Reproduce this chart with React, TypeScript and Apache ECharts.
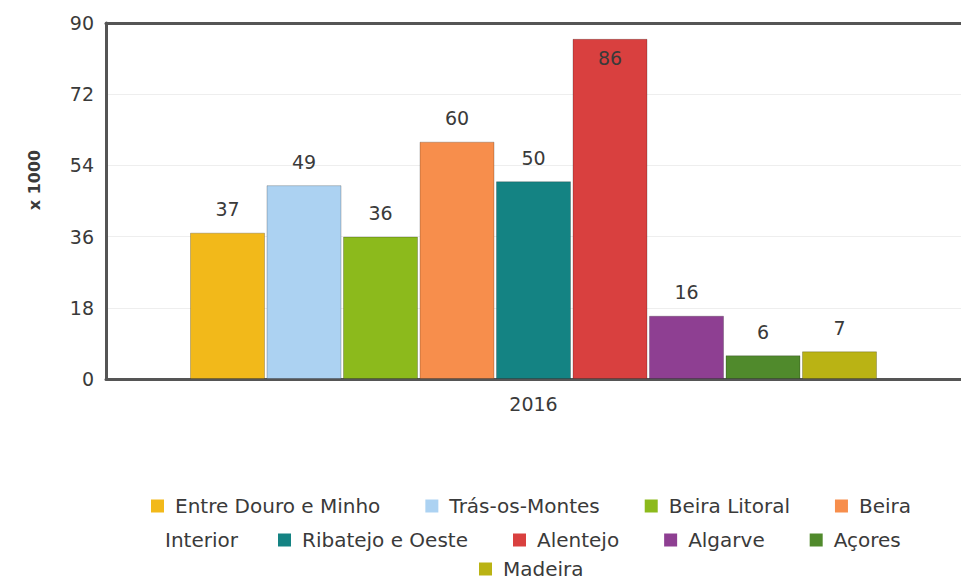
import React, { useEffect, useRef } from "react";
import * as echarts from "echarts";

const categories = ["2016"];
const regions = [
  "Entre Douro e Minho",
  "Trás-os-Montes",
  "Beira Litoral",
  "Beira Interior",
  "Ribatejo e Oeste",
  "Alentejo",
  "Algarve",
  "Açores",
  "Madeira",
];
const values = [37, 49, 36, 60, 50, 86, 16, 6, 7];
const colors = [
  "#f2b91a",
  "#acd2f2",
  "#8cba1c",
  "#f78e4c",
  "#148383",
  "#d9403f",
  "#8e3f92",
  "#508a2c",
  "#bab314",
];
const yTicks = { min: 0, max: 90, interval: 18 };
const legendRows = [regions.slice(0, 4), regions.slice(4, 8), regions.slice(8)];

export default function App() {
  const ref = useRef<HTMLDivElement>(null);
  useEffect(() => {
    if (!ref.current) return;
    const chart = echarts.init(ref.current, undefined, { renderer: "svg" });
    const font = "DejaVu Sans, Verdana, sans-serif";
    const txt = "#3a3a3a";
    const legendBase = {
      orient: "horizontal",
      padding: 0,
      itemWidth: 13,
      itemHeight: 13,
      itemGap: 45,
      icon: "rect",
      itemStyle: { borderWidth: 0 },
      textStyle: { fontSize: 20, color: txt, fontFamily: font, padding: [0, 0, 0, 6] },
      formatter: (n: string) => (n === "Beira Interior" ? "Beira" : n),
    };
    chart.setOption({
      animation: false,
      textStyle: { fontFamily: font },
      grid: {
        left: 106,
        top: 23,
        right: -5,
        bottom: 203,
      },
      legend: [
        { ...legendBase, left: 151, top: 496, data: legendRows[0] },
        { ...legendBase, left: 278, top: 530, data: legendRows[1] },
        { ...legendBase, left: 479, top: 559, data: legendRows[2] },
      ],
      graphic: [
        {
          type: "text",
          left: 165,
          top: 530,
          style: { text: "Interior", font: `20px ${font}`, fill: txt },
        },
      ],
      xAxis: [
        {
          type: "category",
          data: categories,
          axisLine: { lineStyle: { color: "#555", width: 3 } },
          axisTick: { show: false },
          axisLabel: { fontSize: 19, color: txt, margin: 15 },
        },
        {
          type: "category",
          position: "top",
          data: categories,
          axisLine: { show: true, lineStyle: { color: "#555", width: 3 } },
          axisTick: { show: false },
          axisLabel: { show: false },
        },
      ],
      yAxis: {
        type: "value",
        min: yTicks.min,
        max: yTicks.max,
        interval: yTicks.interval,
        name: "x 1000",
        nameLocation: "middle",
        nameGap: 64,
        nameTextStyle: { fontSize: 16, fontWeight: "bold", color: txt, padding: [0, 0, 0, 42] },
        axisLine: { show: true, lineStyle: { color: "#555", width: 3 } },
        axisLabel: { fontSize: 19, color: txt, margin: 12 },
        splitLine: { lineStyle: { color: "#eeeeee" } },
      },
      series: regions.map((name, i) => ({
        name,
        type: "bar",
        xAxisIndex: 0,
        barWidth: 75,
        barGap: "2%",
        itemStyle: { color: colors[i], borderColor: "rgba(0,0,0,0.22)", borderWidth: 1 },
        label: {
          show: true,
          position: values[i] > 80 ? "insideTop" : "top",
          distance: values[i] > 80 ? 10 : 14,
          fontSize: 19,
          color: txt,
        },
        data: [values[i]],
      })),
    });
    return () => chart.dispose();
  }, []);
  return (
    <div
      ref={ref}
      style={{ position: "absolute", left: 0, top: 0, width: 961, height: 582, background: "#fff" }}
    />
  );
}
